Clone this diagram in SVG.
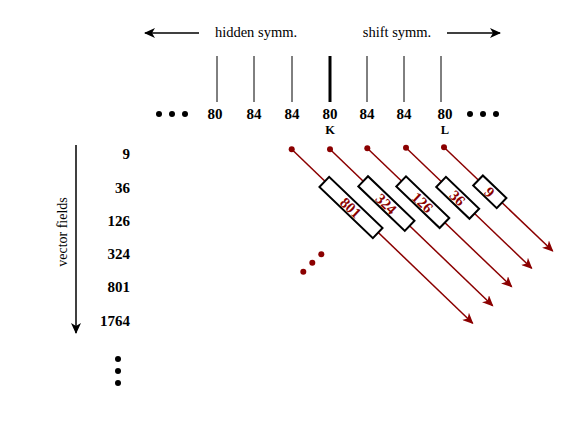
<svg xmlns="http://www.w3.org/2000/svg" width="564" height="436" viewBox="0 0 564 436">
<style>
.t{font-family:"Liberation Serif",serif;fill:#000}
.b{font-weight:bold;font-size:15px}
.n{font-size:14.5px}
.tick{stroke:#000;stroke-width:1}
.rl{stroke:#8b0000;stroke-width:1.5;fill:none;marker-end:url(#rh)}
.rd{fill:#8b0000}
.box{fill:#fff;stroke:#000;stroke-width:2}
.bt{font-family:"Liberation Serif",serif;font-weight:bold;font-size:15px;fill:#8b0000;text-anchor:middle}
.bd{fill:#000}
</style>
<defs>
<marker id="rh" markerWidth="12" markerHeight="10" refX="10" refY="5" orient="auto" markerUnits="userSpaceOnUse">
<path d="M0,0 L11,5 L0,10 L3,5 Z" fill="#8b0000"/>
</marker>
<marker id="kh" markerWidth="12" markerHeight="10" refX="10" refY="5" orient="auto" markerUnits="userSpaceOnUse">
<path d="M0,0 L11,5 L0,10 L3,5 Z" fill="#000"/>
</marker>
</defs>
<rect width="564" height="436" fill="#fff"/>
<g id="header">
<line x1="199" y1="33" x2="145" y2="33" stroke="#000" stroke-width="1.5" marker-end="url(#kh)"/>
<line x1="447" y1="33" x2="500" y2="33" stroke="#000" stroke-width="1.5" marker-end="url(#kh)"/>
<text class="t n" x="256" y="37" text-anchor="middle">hidden symm.</text>
<text class="t n" x="397" y="37" text-anchor="middle">shift symm.</text>
</g>
<g id="chain">
<line class="tick" x1="217" y1="56" x2="217" y2="102"/>
<line class="tick" x1="254" y1="56" x2="254" y2="102"/>
<line class="tick" x1="292" y1="56" x2="292" y2="102"/>
<line x1="330" y1="56" x2="330" y2="102" stroke="#000" stroke-width="3"/>
<line class="tick" x1="367" y1="56" x2="367" y2="102"/>
<line class="tick" x1="404" y1="56" x2="404" y2="102"/>
<line class="tick" x1="441" y1="56" x2="441" y2="102"/>
<g class="t b" text-anchor="middle">
<text x="215" y="119">80</text>
<text x="254" y="119">84</text>
<text x="292" y="119">84</text>
<text x="330" y="119">80</text>
<text x="367" y="119">84</text>
<text x="404" y="119">84</text>
<text x="445" y="119">80</text>
</g>
<g class="t" font-weight="bold" font-size="12.5" text-anchor="middle">
<text x="330" y="133.5">K</text>
<text x="445" y="133.5">L</text>
</g>
<circle class="bd" cx="159" cy="114" r="3"/>
<circle class="bd" cx="172" cy="114" r="3"/>
<circle class="bd" cx="185" cy="114" r="3"/>
<circle class="bd" cx="470" cy="114" r="3"/>
<circle class="bd" cx="483" cy="114" r="3"/>
<circle class="bd" cx="496" cy="114" r="3"/>
</g>
<g id="axis">
<line x1="76" y1="145" x2="76" y2="333" stroke="#000" stroke-width="1.5" marker-end="url(#kh)"/>
<text class="t" font-size="14" transform="translate(67,232) rotate(-90)" text-anchor="middle">vector fields</text>
<g class="t b" text-anchor="end">
<text x="130" y="159">9</text>
<text x="130" y="192.5">36</text>
<text x="130" y="225.5">126</text>
<text x="130" y="258.5">324</text>
<text x="130" y="291.5">801</text>
<text x="130" y="325.5">1764</text>
</g>
<circle class="bd" cx="118" cy="359" r="3"/>
<circle class="bd" cx="118" cy="371" r="3"/>
<circle class="bd" cx="118" cy="383" r="3"/>
</g>
<g id="connectors">
<line class="rl" x1="291.7" y1="149.3" x2="472.7" y2="323.3"/>
<line class="rl" x1="330" y1="149.3" x2="492.7" y2="305.7"/>
<line class="rl" x1="367.3" y1="148.3" x2="511.7" y2="286.7"/>
<line class="rl" x1="406" y1="147.7" x2="531.7" y2="268.3"/>
<line class="rl" x1="444" y1="147.3" x2="552.7" y2="251"/>
<circle class="rd" cx="291.7" cy="149.3" r="3"/>
<circle class="rd" cx="330" cy="149.3" r="3"/>
<circle class="rd" cx="367.3" cy="148.3" r="3"/>
<circle class="rd" cx="406" cy="147.7" r="3"/>
<circle class="rd" cx="444" cy="147.3" r="3"/>
<circle class="rd" cx="303.3" cy="271.7" r="3"/>
<circle class="rd" cx="312.3" cy="262.7" r="3"/>
<circle class="rd" cx="321.3" cy="254.3" r="3"/>
</g>
<g id="box801" transform="translate(351,207.5) rotate(43.8)">
<rect class="box" x="-37" y="-7" width="74" height="14"/>
<text class="bt" x="0" y="5.5">801</text>
</g>
<g id="box324" transform="translate(386.4,203.6) rotate(43.8)">
<rect class="box" x="-32.2" y="-7" width="64.4" height="14"/>
<text class="bt" x="0" y="5.5">324</text>
</g>
<g id="box126" transform="translate(422.8,202.2) rotate(43.8)">
<rect class="box" x="-30" y="-7" width="60" height="14"/>
<text class="bt" x="0" y="5.5">126</text>
</g>
<g id="box36" transform="translate(457.7,197.8) rotate(43.8)">
<rect class="box" x="-23" y="-7" width="46" height="14"/>
<text class="bt" x="0" y="5.5">36</text>
</g>
<g id="box9" transform="translate(489.8,191.8) rotate(43.8)">
<rect class="box" x="-16.3" y="-7" width="32.6" height="14"/>
<text class="bt" x="0" y="5.5">9</text>
</g>
</svg>
